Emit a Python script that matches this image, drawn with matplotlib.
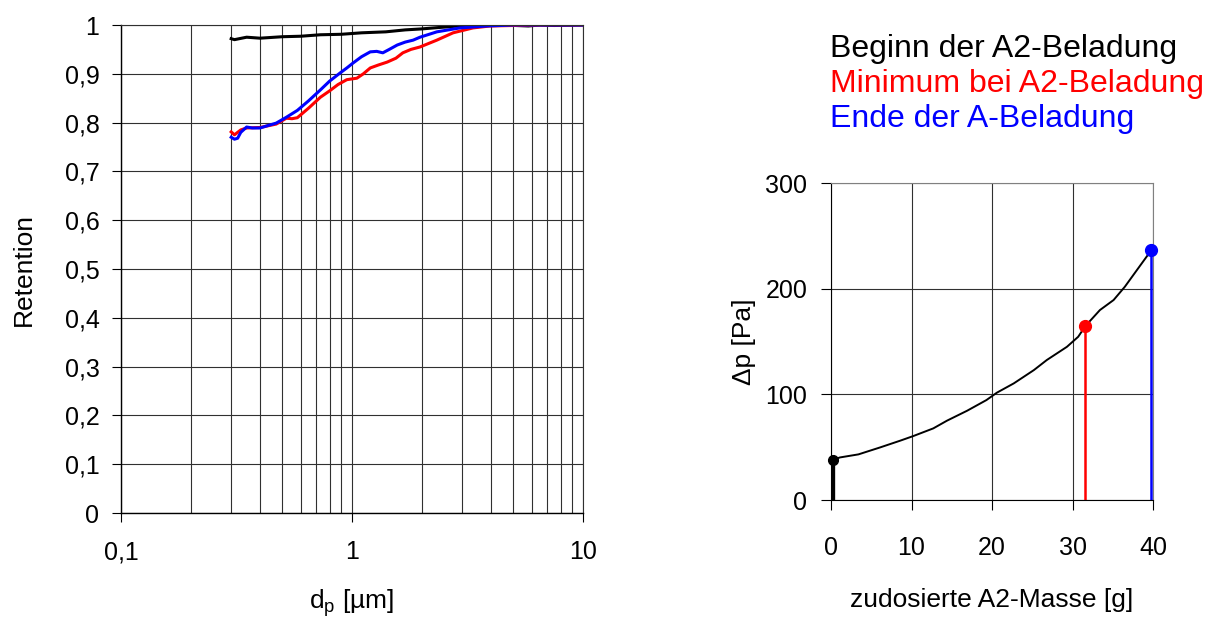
import numpy as np
import matplotlib
matplotlib.use("Agg")
import matplotlib.pyplot as plt
from matplotlib.ticker import FixedLocator, NullFormatter, FuncFormatter

plt.rcParams["font.family"] = ["Liberation Sans", "DejaVu Sans"]

# Left panel: retention curves vs particle size
black_x = [0.30, 0.31, 0.35, 0.40, 0.50, 0.60, 0.73, 0.90, 1.1, 1.4, 1.7, 2.0, 2.4, 2.9, 3.5, 4.5, 5.8, 6.5, 7.5, 10]
black_y = [0.972, 0.970, 0.975, 0.973, 0.976, 0.977, 0.980, 0.981, 0.984, 0.986, 0.990, 0.992, 0.995, 0.998, 1.0, 1.0, 0.998, 1.0, 0.999, 1.0]

blue_x = [0.30, 0.31, 0.32, 0.33, 0.35, 0.37, 0.40, 0.44, 0.47, 0.52, 0.58, 0.65, 0.73, 0.80,
          0.89, 0.95, 1.01, 1.10, 1.20, 1.28, 1.36, 1.45, 1.57, 1.70, 1.84, 1.97, 2.33, 2.93,
          3.84, 5.0, 7.0, 10]
blue_y = [0.770, 0.766, 0.768, 0.780, 0.791, 0.789, 0.789, 0.795, 0.799, 0.811, 0.825, 0.845,
          0.867, 0.885, 0.902, 0.912, 0.922, 0.935, 0.945, 0.946, 0.943, 0.950, 0.959, 0.965,
          0.969, 0.975, 0.986, 0.994, 0.998, 1.0, 1.0, 1.0]

red_x = [0.30, 0.31, 0.33, 0.35, 0.40, 0.47, 0.52, 0.55, 0.58, 0.65, 0.73, 0.80, 0.87, 0.95,
         1.05, 1.12, 1.20, 1.30, 1.42, 1.55, 1.66, 1.80, 1.97, 2.33, 2.74, 3.34, 3.96, 5.0, 7.0, 10]
red_y = [0.781, 0.775, 0.785, 0.789, 0.790, 0.797, 0.809, 0.808, 0.810, 0.830, 0.852, 0.865,
         0.878, 0.888, 0.891, 0.900, 0.912, 0.918, 0.924, 0.932, 0.943, 0.950, 0.955, 0.969,
         0.984, 0.994, 0.998, 0.999, 1.0, 1.0]

# Right panel: pressure drop vs dosed mass
mass = [0.2, 1.1, 3.4, 6.1, 8.6, 10.2, 12.7, 14.4, 16.9, 19.3, 20.6, 22.7, 25.2, 26.8, 29.3,
        30.7, 31.6, 33.4, 35.1, 36.5, 38.0, 39.8]
dp = [37.9, 40.3, 43.2, 49.8, 56.2, 60.5, 67.8, 75.1, 84.5, 94.6, 101.6, 110.4, 123.0, 132.5,
      145.0, 154.5, 164.7, 179.8, 189.3, 201.9, 217.7, 236.6]

marker_mass = [0.2, 31.6, 39.8]
marker_dp = [37.9, 164.7, 236.6]
marker_colors = ["black", "red", "blue"]
legend_labels = ["Beginn der A2-Beladung", "Minimum bei A2-Beladung", "Ende der A-Beladung"]

GRID = "#303030"

fig = plt.figure(figsize=(12.06, 6.19), dpi=100)

# ---- left axes ----
ax1 = fig.add_axes([0.1003, 0.1712, 0.3831, 0.7884])
ax1.set_xscale("log")
ax1.set_xlim(0.1, 10)
ax1.set_ylim(0, 1)

ax1.xaxis.set_major_locator(FixedLocator([0.1, 1, 10]))
ax1.xaxis.set_minor_locator(FixedLocator([k * 0.1 for k in range(2, 10)] + list(range(2, 10))))
ax1.xaxis.set_major_formatter(FuncFormatter(lambda v, p: f"{v:g}".replace(".", ",")))
ax1.xaxis.set_minor_formatter(NullFormatter())
ax1.set_yticks(np.arange(0, 1.01, 0.1))
ax1.yaxis.set_major_formatter(FuncFormatter(lambda v, p: f"{v:.1f}".rstrip("0").rstrip(".").replace(".", ",") if v not in (0, 1) else f"{int(round(v))}"))

ax1.grid(True, which="both", color=GRID, linewidth=0.8)
ax1.set_axisbelow(True)
ax1.tick_params(axis="x", which="major", direction="out", length=6.5, width=0.8, pad=13, labelsize=18)
ax1.tick_params(axis="x", which="minor", length=0)
ax1.tick_params(axis="y", direction="out", length=6.5, width=0.8, pad=9, labelsize=18)

for s in ["top", "right"]:
    ax1.spines[s].set_color(GRID)
    ax1.spines[s].set_linewidth(0.8)
for s in ["left", "bottom"]:
    ax1.spines[s].set_linewidth(1.0)

ax1.plot(black_x, black_y, color="black", linewidth=2.2)
ax1.plot(red_x, red_y, color="red", linewidth=2.2)
ax1.plot(blue_x, blue_y, color="blue", linewidth=2.2)

ax1.set_ylabel("Retention", fontsize=19)
ax1.yaxis.set_label_coords(-0.185, 0.5)
ax1.set_xlabel(r"$\mathregular{d_p}$ [µm]", fontsize=19)
ax1.xaxis.set_label_coords(0.5, -0.153)

# ---- right axes ----
ax2 = fig.add_axes([0.6891, 0.1922, 0.2670, 0.5121])
ax2.set_xlim(0, 40)
ax2.set_ylim(0, 300)
ax2.set_xticks([0, 10, 20, 30, 40])
ax2.set_yticks([0, 100, 200, 300])
ax2.grid(True, color=GRID, linewidth=0.8)
ax2.set_axisbelow(True)
ax2.tick_params(axis="x", direction="out", length=7, width=0.8, pad=19, labelsize=18)
ax2.tick_params(axis="y", direction="out", length=7, width=0.8, pad=10, labelsize=18)
for s in ["top", "right"]:
    ax2.spines[s].set_color("#808080")
    ax2.spines[s].set_linewidth(0.8)

ax2.plot(mass, dp, color="black", linewidth=1.4)
stem_widths = [2.4, 1.8, 1.8]
marker_sizes = [7, 8.5, 8.5]
for m, d, c, w, ms in zip(marker_mass, marker_dp, marker_colors, stem_widths, marker_sizes):
    ax2.plot([m, m], [0, d], color=c, linewidth=w, solid_capstyle="butt")
    ax2.plot(m, d, "o", color=c, markersize=ms, clip_on=False, zorder=5)

ax2.set_ylabel("Δp [Pa]", fontsize=19)
ax2.yaxis.set_label_coords(-0.233, 0.5)
ax2.set_xlabel("zudosierte A2-Masse [g]", fontsize=19)
ax2.xaxis.set_label_coords(0.5, -0.276)

# colored text legend
for i, (lab, c) in enumerate(zip(legend_labels, marker_colors)):
    fig.text(0.688, 0.9084 - i * 0.0568, lab, color=c, fontsize=23, va="baseline", ha="left")

plt.savefig("out.png", dpi=100)
